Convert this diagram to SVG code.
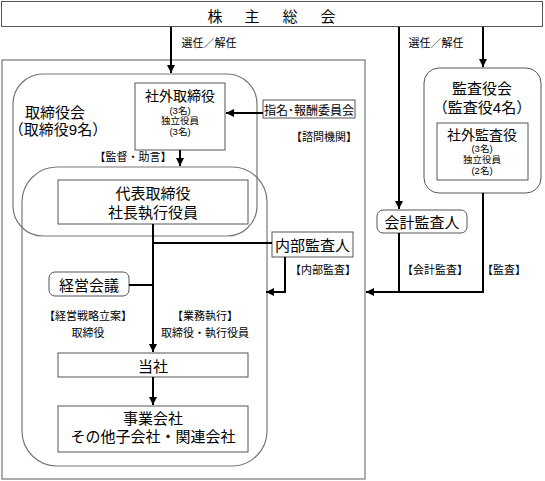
<svg xmlns="http://www.w3.org/2000/svg" width="545" height="481" viewBox="0 0 545 481">
<style>
text{font-family:"Noto Sans CJK JP","Noto Sans CJK SC",sans-serif;fill:#000;text-anchor:middle;dominant-baseline:central}
text.lib{font-family:"Liberation Sans","Noto Sans CJK JP",sans-serif}
.box{fill:#fff;stroke:#555;stroke-width:1}
.frame{fill:none;stroke:#777;stroke-width:1.2}
.t15{font-size:15px}
.t14{font-size:14px}
.t12{font-size:12px}
.t11{font-size:11px}
.t10{font-size:10px}
.t9{font-size:9.5px}
.c{fill:none;stroke:#000;stroke-width:2}
</style>
<defs>
<marker id="ah" markerUnits="userSpaceOnUse" markerWidth="9" markerHeight="8" refX="8" refY="4" orient="auto">
<path d="M0,0 L8,4 L0,8 z" fill="#000"/>
</marker>
</defs>
<rect width="545" height="481" fill="#fff"/>
<g id="shareholders">
<rect class="box" x="1.5" y="1.5" width="541" height="25"/>
<text class="t15" x="215 252 290 328" y="15">株主総会</text>
</g>
<g id="outer-frame">
<rect class="frame" x="2" y="60" width="363" height="419"/>
</g>
<g id="board">
<rect class="frame" x="13" y="74" width="244" height="162" rx="30"/>
<text class="t15 lib" y="111.5"><tspan x="55">取締役会</tspan><tspan x="58" dy="17.6">（取締役9名）</tspan></text>
</g>
<g id="exec-area">
<rect class="frame" x="22" y="167" width="245" height="299" rx="35"/>
</g>
<g id="outside-directors">
<rect class="box" x="135" y="83" width="90" height="67"/>
<text class="lib" x="180" y="96"><tspan class="t14" x="180">社外取締役</tspan><tspan class="t9" x="180" dy="13.5">(3名)</tspan><tspan class="t9" x="180" dy="10.8">独立役員</tspan><tspan class="t9" x="180" dy="10.8">(3名)</tspan></text>
</g>
<g id="nomination">
<rect class="box" x="263" y="100" width="92" height="18"/>
<text class="t12" x="309" y="109">指名･報酬委員会</text>
<text class="t11" x="324" y="136">【諮問機関】</text>
</g>
<g id="ceo">
<rect class="box" x="58" y="180" width="190" height="44"/>
<text class="t15 lib" y="193"><tspan x="153">代表取締役</tspan><tspan x="153" dy="19">社長執行役員</tspan></text>
</g>
<g id="mgmt-meeting">
<rect class="box" x="49" y="272" width="80" height="24" rx="6"/>
<text class="t15" x="89" y="284">経営会議</text>
</g>
<g id="internal-audit">
<rect class="box" x="272" y="232" width="81" height="25"/>
<text class="t15" x="312.5" y="244.5">内部監査人</text>
</g>
<g id="company">
<rect class="box" x="58" y="353" width="190" height="24"/>
<text class="t15" x="153" y="365">当社</text>
</g>
<g id="subsidiaries">
<rect class="box" x="58" y="406" width="190" height="46"/>
<text class="t15 lib" y="418"><tspan x="153">事業会社</tspan><tspan x="153" dy="18">その他子会社・関連会社</tspan></text>
</g>
<g id="auditors-board">
<rect class="box" x="424" y="68" width="117" height="125" rx="15"/>
<text class="t15 lib" y="88"><tspan x="482">監査役会</tspan><tspan x="482" dy="19">（監査役4名）</tspan></text>
<rect class="box" x="437" y="123" width="91" height="57"/>
<text class="lib" y="134.5"><tspan class="t14" x="482">社外監査役</tspan><tspan class="t9" x="482" dy="13.5">(3名)</tspan><tspan class="t9" x="482" dy="10.8">独立役員</tspan><tspan class="t9" x="482" dy="10.8">(2名)</tspan></text>
</g>
<g id="accounting-auditor">
<rect class="box" x="377" y="210" width="90" height="23" rx="6"/>
<text class="t15" x="422" y="221.5">会計監査人</text>
</g>
<g id="connectors">
<path class="c" d="M171,27 V73" marker-end="url(#ah)"/>
<path class="c" d="M180,150 V166" marker-end="url(#ah)"/>
<path class="c" d="M263,113 H226" marker-end="url(#ah)"/>
<path class="c" d="M153,224 V352" marker-end="url(#ah)"/>
<path class="c" d="M153,243 H272"/>
<path class="c" d="M129,285 H153"/>
<path class="c" d="M285,257 V292 H266" marker-end="url(#ah)"/>
<path class="c" d="M153,377 V405" marker-end="url(#ah)"/>
<path class="c" d="M399,27 V209" marker-end="url(#ah)"/>
<path class="c" d="M483,27 V67" marker-end="url(#ah)"/>
<path class="c" d="M399,233 V292"/>
<path class="c" d="M483,193 V292 H366" marker-end="url(#ah)"/>
</g>
<g id="labels">
<text class="t11" x="209" y="42">選任／解任</text>
<text class="t11" x="436" y="42">選任／解任</text>
<text class="t11" x="133" y="156">【監督・助言】</text>
<text class="t11" x="323" y="269">【内部監査】</text>
<text class="t11" x="435" y="269">【会計監査】</text>
<text class="t11" x="504" y="269">【監査】</text>
<text class="t11" y="315"><tspan x="88">【経営戦略立案】</tspan><tspan x="88" dy="17">取締役</tspan></text>
<text class="t11" y="315"><tspan x="205">【業務執行】</tspan><tspan x="205" dy="17">取締役・執行役員</tspan></text>
</g>
</svg>
